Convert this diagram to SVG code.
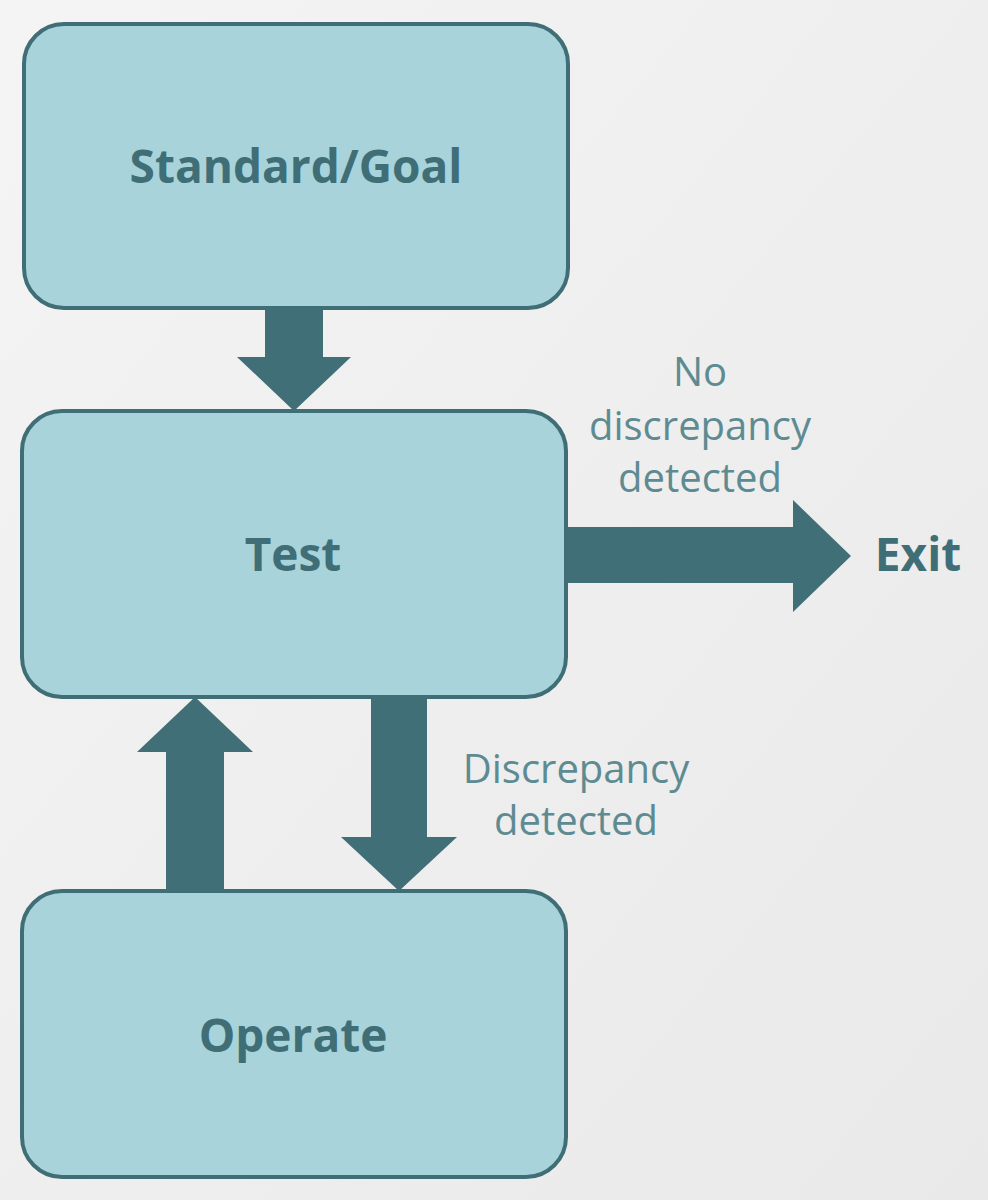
<svg xmlns="http://www.w3.org/2000/svg" width="988" height="1200" viewBox="0 0 988 1200">
<defs>
<linearGradient id="bg" x1="0" y1="0" x2="1" y2="1"><stop offset="0" stop-color="#f4f4f4"/><stop offset="1" stop-color="#e9e9e9"/></linearGradient>
<style>
.box{fill:#a8d3da;stroke:#3f6e77;stroke-width:4}
.lbl{font-family:"Open Sans","Liberation Sans",sans-serif;font-weight:bold;font-size:46px;fill:#3f6e77;text-anchor:middle}
.note{font-family:"Open Sans","Liberation Sans",sans-serif;font-size:40px;fill:#5e8b92;text-anchor:middle}
.arr{fill:#416f77}
</style>
</defs>
<rect width="988" height="1200" fill="url(#bg)"/>
<g id="standard"><rect class="box" x="24" y="24" width="544" height="284" rx="40"/><text class="lbl" x="296" y="183">Standard/Goal</text></g>
<g id="test"><rect class="box" x="22" y="411" width="544" height="286" rx="40"/><text class="lbl" x="293" y="571">Test</text></g>
<g id="operate"><rect class="box" x="22" y="891" width="544" height="286" rx="40"/><text class="lbl" x="293" y="1052">Operate</text></g>
<g id="exit"><text class="lbl" x="918" y="571">Exit</text></g>
<g id="connectors">
<polygon class="arr" points="265,308 323,308 323,357 351,357 294,411 237,357 265,357"/>
<polygon class="arr" points="566,527 793,527 793,500 851,556 793,612 793,583 566,583"/>
<polygon class="arr" points="371,697 427,697 427,837 457,837 399,891 341,837 371,837"/>
<polygon class="arr" points="166,891 224,891 224,752 253,752 195,697 137,752 166,752"/>
<text class="note" x="700" y="386">No</text>
<text class="note" x="700" y="440">discrepancy</text>
<text class="note" x="700" y="492">detected</text>
<text class="note" x="576" y="783">Discrepancy</text>
<text class="note" x="576" y="835">detected</text>
</g>
</svg>
